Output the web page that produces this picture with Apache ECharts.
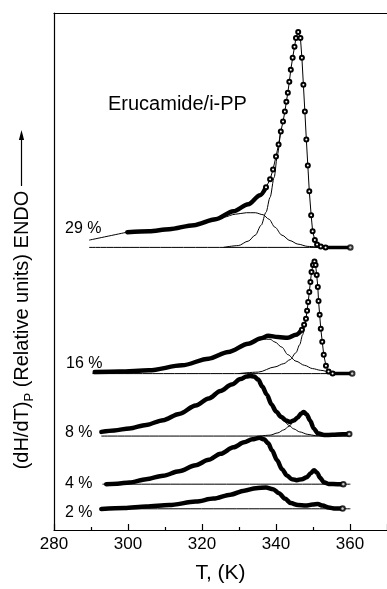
<!DOCTYPE html>
<html>
<head>
<meta charset="utf-8">
<script src="https://cdn.jsdelivr.net/npm/echarts@6/dist/echarts.min.js"></script>
<style>
  html, body { margin: 0; background: #fff; }
  #chart { width: 387px; height: 589px; }
</style>
</head>
<body>
<div id="chart"></div>
<script>
// T (K), relative heat flow; each curve keeps its own vertical offset
const p29Ext = [[289.5, 291], [299.8, 299]];
const p29Base = [[289.5, 283.7], [360.1, 283.7]];
const p29Comp1 = [[323.1, 310], [325.8, 314], [329.0, 317], [332.0, 318.5], [334.4, 318.5], [336.5, 316.5], [338.1, 312], [339.7, 304], [341.6, 296], [343.8, 290.5], [345.9, 287], [348.6, 284.7], [351.8, 283.7]];
const p29Comp2 = [[325.8, 283.7], [329.8, 285.5], [332.5, 290], [334.4, 296], [336.0, 306], [337.3, 319], [338.4, 334], [339.5, 354], [340.4, 377], [341.2, 400]];
const p29Thick = [[299.8, 299], [305.7, 300], [311.1, 302], [317.8, 306], [323.7, 312], [328.5, 320], [332.5, 327], [335.7, 336], [337.3, 344]];
const p29Dots = [[337.3, 344], [338.4, 352], [339.2, 362], [340.0, 375], [340.7, 387], [341.3, 400], [341.9, 410], [342.4, 420], [342.8, 430], [343.2, 439], [343.6, 450], [344.0, 462], [344.5, 474], [345.0, 485], [345.4, 494], [346.0, 500], [346.6, 494], [347.0, 474], [347.4, 447], [347.8, 420], [348.2, 392], [348.6, 366], [349.0, 340], [349.5, 316], [349.9, 300], [350.5, 291], [351.1, 286.5], [352.1, 284.5], [353.4, 283.7]];
const p29Tail = [[351.1, 286.5], [352.1, 284.5], [353.4, 283.7], [356.1, 283.7], [360.1, 283.7]];

const p16Base = [[290.4, 157], [360.6, 157]];
const p16Comp1 = [[334.1, 189], [336.5, 191.5], [338.4, 191.5], [339.7, 188.7], [341.6, 183.5], [343.2, 176], [345.4, 169.5], [347.7, 165.3], [349.9, 162], [352.1, 160.3], [354.7, 158.5], [358.0, 157]];
const p16Comp2 = [[329.8, 157], [335.2, 158.5], [339.7, 163.7], [342.1, 167], [343.8, 171], [345.4, 178], [346.4, 186], [347.2, 196], [347.8, 205], [348.2, 214]];
const p16Thick = [[291.0, 158.5], [297.7, 159], [305.7, 160.3], [314.6, 165.3], [321.8, 172], [327.1, 178.7], [332.5, 187], [336.0, 192.5], [337.9, 195], [340.5, 193.7], [343.2, 193], [345.4, 196], [347.0, 201]];
const p16Dots = [[347.0, 201], [347.6, 206], [348.1, 212], [348.4, 220], [348.7, 229], [349.0, 239], [349.3, 249], [349.6, 259], [350.0, 266], [350.4, 269.5], [350.7, 266], [351.0, 256], [351.3, 244], [351.5, 230], [351.8, 216], [352.1, 202], [352.5, 189], [352.9, 176], [353.5, 165], [354.2, 159], [355.3, 157]];
const p16Tail = [[354.2, 159], [355.3, 157], [360.6, 157]];

const p8Base = [[292.8, 94.3], [359.8, 94.3]];
const p8Comp1 = [[339.7, 123], [340.8, 116], [342.1, 109.5], [343.5, 105], [344.8, 101.5], [346.4, 98.5], [348.6, 96], [350.7, 94.7], [353.4, 94.3]];
const p8Comp2 = [[335.7, 94.3], [338.4, 95.2], [340.5, 97.5], [342.1, 100.5], [343.5, 104], [344.8, 109], [345.9, 113.5], [346.8, 117]];
const p8Thick = [[292.8, 98.5], [296.3, 100], [300.4, 102], [304.9, 105.5], [309.5, 110.3], [313.8, 116.5], [318.3, 125], [321.8, 132], [325.0, 139.5], [328.0, 146], [330.4, 151.5], [332.0, 154], [333.0, 154.7], [334.1, 154], [335.2, 151], [336.3, 144], [337.5, 136], [338.8, 126], [340.0, 119], [341.4, 113.5], [342.7, 110], [343.8, 108.5], [344.8, 110], [345.9, 113], [346.8, 117], [347.5, 118.5], [348.3, 116], [349.2, 110], [350.2, 102], [351.3, 97], [353.0, 95.3], [355.3, 95.5], [358.0, 96], [359.8, 96.3]];

const p4Base = [[293.1, 46], [360.1, 46]];
const p4Thick = [[294.1, 46], [297.1, 46.5], [300.4, 47.7], [304.9, 51], [309.5, 54.5], [313.8, 59], [318.3, 65], [321.8, 70.5], [325.0, 76.5], [328.5, 83], [331.4, 88], [333.6, 91], [335.5, 92.5], [336.8, 91], [337.9, 87], [338.9, 80], [340.3, 70], [341.6, 61], [343.0, 54.5], [344.3, 51], [345.6, 50], [347.0, 51], [348.3, 53], [349.4, 57], [350.3, 60], [351.1, 57.5], [351.9, 52.5], [352.9, 48], [354.2, 46.3], [356.6, 46], [358.2, 46]];

const p2Base = [[292.3, 21.3], [360.1, 21.3]];
const p2Thick = [[292.8, 21], [299.0, 22], [304.9, 23.5], [311.1, 25], [318.3, 28.5], [323.1, 31.5], [327.7, 35.5], [331.4, 39.5], [334.6, 42], [337.3, 42.7], [339.2, 41], [340.8, 37], [342.4, 31.5], [344.0, 27], [345.9, 25], [348.0, 24.5], [349.9, 25.5], [351.3, 26], [352.6, 24.5], [354.2, 22.5], [356.1, 21.5], [358.0, 21.5]];

const curveLabels = ["29 %", "16 %", "8 %", "4 %", "2 %"];
const xTicks = [280, 370, 20];

const FONT = '"Liberation Sans", Arial, sans-serif';

function thin(data) {
  return {
    type: "line", data: data, symbol: "none", smooth: 0.3, smoothMonotone: "x",
    lineStyle: { color: "#000", width: 1 }, silent: true, z: 2
  };
}

function thick(data, width) {
  return {
    type: "line", data: data, symbol: "none", smooth: 0.3, smoothMonotone: "x",
    lineStyle: { color: "#000", width: width || 4.5, cap: "round", join: "round" }, silent: true, z: 3
  };
}

function dots(data) {
  return {
    type: "line", data: data, symbol: "emptyCircle", symbolSize: 4, showAllSymbol: true,
    lineStyle: { color: "#000", width: 1 },
    itemStyle: { color: "#000", borderWidth: 1 },
    silent: true, z: 4
  };
}

const ends = [p29Tail, p16Tail, p8Thick, p4Thick, p2Thick].map(function (arr) {
  return arr[arr.length - 1];
});

const chart = echarts.init(document.getElementById("chart"));

chart.setOption({
  animation: false,
  grid: { left: 54, right: -3, top: 13, bottom: 57 },
  xAxis: [
    {
      type: "value",
      min: xTicks[0],
      max: xTicks[1],
      interval: xTicks[2],
      name: "T, (K)",
      nameLocation: "middle",
      nameGap: 33,
      nameTextStyle: { color: "#000", fontSize: 21, fontFamily: FONT },
      axisLine: { show: true, onZero: false, lineStyle: { color: "#000", width: 1.2 } },
      axisTick: { show: true, inside: true, length: 6, lineStyle: { color: "#000", width: 1.2 } },
      minorTick: { show: true, splitNumber: 2, length: 3, lineStyle: { color: "#000", width: 1.2 } },
      axisLabel: { color: "#000", fontSize: 17, fontFamily: FONT, margin: 6, showMaxLabel: false },
      splitLine: { show: false }
    },
    {
      type: "value",
      position: "top",
      min: xTicks[0],
      max: xTicks[1],
      axisLine: { show: true, onZero: false, lineStyle: { color: "#000", width: 1.2 } },
      axisTick: { show: false },
      axisLabel: { show: false },
      splitLine: { show: false }
    }
  ],
  yAxis: {
    type: "value",
    min: 0,
    max: 519,
    axisLine: { show: true, onZero: false, lineStyle: { color: "#000", width: 1.2 } },
    axisTick: { show: false },
    axisLabel: { show: false },
    splitLine: { show: false }
  },
  series: [
    thin(p29Base), thin(p29Ext), thin(p29Comp1), thin(p29Comp2),
    thin(p16Base), thin(p16Comp1), thin(p16Comp2),
    thin(p8Base), thin(p8Comp1), thin(p8Comp2),
    thin(p4Base), thin(p2Base),
    thick(p29Thick), thick(p16Thick), thick(p8Thick), thick(p4Thick), thick(p2Thick),
    thick(p29Tail, 3.5), thick(p16Tail, 3.5),
    dots(p29Dots), dots(p16Dots),
    {
      type: "scatter", data: ends, symbol: "emptyCircle", symbolSize: 4.5,
      itemStyle: { color: "#000", borderWidth: 1 }, silent: true, z: 5
    }
  ],
  graphic: [
    { type: "text", x: 108, y: 104.5, style: { text: "Erucamide/i-PP", fill: "#000", font: "20px " + FONT, verticalAlign: "middle" } },
    { type: "text", x: 65, y: 229, style: { text: curveLabels[0], fill: "#000", font: "16px " + FONT, verticalAlign: "middle" } },
    { type: "text", x: 66, y: 363.5, style: { text: curveLabels[1], fill: "#000", font: "16px " + FONT, verticalAlign: "middle" } },
    { type: "text", x: 65, y: 433, style: { text: curveLabels[2], fill: "#000", font: "16px " + FONT, verticalAlign: "middle" } },
    { type: "text", x: 65, y: 483.5, style: { text: curveLabels[3], fill: "#000", font: "16px " + FONT, verticalAlign: "middle" } },
    { type: "text", x: 65, y: 512.5, style: { text: curveLabels[4], fill: "#000", font: "16px " + FONT, verticalAlign: "middle" } },
    {
      type: "text", x: 22, y: 330, rotation: Math.PI / 2,
      style: {
        text: "{b|(dH/dT)}{s|P}{b| (Relative units) ENDO}",
        align: "center", verticalAlign: "middle", fill: "#000",
        rich: {
          b: { fontSize: 20, lineHeight: 28, fontFamily: FONT, fill: "#000" },
          s: { fontSize: 13, lineHeight: 16, fontFamily: FONT, verticalAlign: "bottom", fill: "#000" }
        }
      }
    },
    { type: "line", shape: { x1: 21.5, y1: 186, x2: 21.5, y2: 138 }, style: { stroke: "#000", lineWidth: 1.2 } },
    { type: "polygon", shape: { points: [[21.5, 130], [18.9, 140], [24.1, 140]] }, style: { fill: "#000" } }
  ]
});
</script>
</body>
</html>
